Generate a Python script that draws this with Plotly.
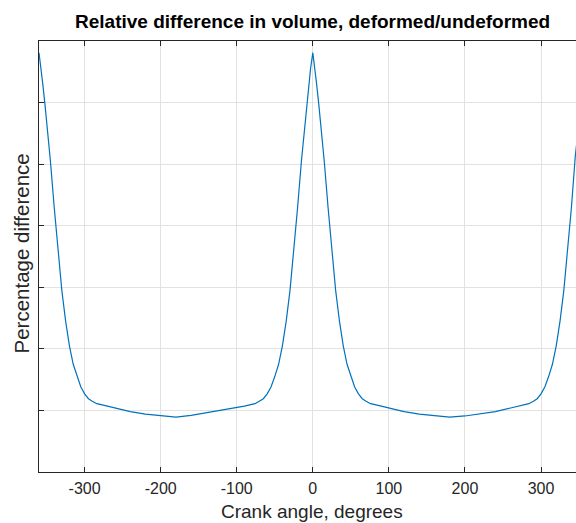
import plotly.graph_objects as go

# Crank angle (degrees)
crank_angle = [-360, -357, -355, -352, -350, -345, -340, -335, -330, -325, -320, -315,
               -310, -305, -300, -295, -290, -284, -270, -260, -240, -220, -200, -180,
               -160, -140, -120, -100, -90, -76, -70, -65, -60, -55, -50, -45, -40,
               -35, -30, -25, -20, -15, -10, -8, -5, -3, 0,
               3, 5, 8, 10, 15, 20, 25, 30, 35, 40, 45, 50, 55, 60, 65, 70, 76, 90,
               100, 120, 140, 160, 180, 200, 220, 240, 260, 270, 284, 290, 295, 300,
               305, 310, 315, 320, 325, 330, 335, 340, 345, 350, 352, 355, 357, 360]

# Percentage difference (axis has no numeric labels; grid units)
pct_diff = [6.81, 6.55, 6.30, 5.95, 5.70, 5.05, 4.30, 3.60, 2.95, 2.45, 2.05, 1.75,
            1.55, 1.38, 1.27, 1.19, 1.15, 1.11, 1.07, 1.04, 0.98, 0.94, 0.91, 0.89,
            0.92, 0.96, 1.00, 1.04, 1.07, 1.11, 1.15, 1.19, 1.27, 1.38, 1.55, 1.75, 2.05,
            2.45, 2.95, 3.60, 4.30, 5.05, 5.70, 5.95, 6.30, 6.55, 6.81,
            6.55, 6.30, 5.95, 5.70, 5.05, 4.30, 3.60, 2.95, 2.45, 2.05, 1.75, 1.55, 1.38,
            1.27, 1.19, 1.15, 1.11, 1.07, 1.04, 0.98, 0.94, 0.92, 0.89, 0.91, 0.94, 0.98,
            1.04, 1.07, 1.11, 1.15, 1.19, 1.27, 1.38, 1.55, 1.75, 2.05, 2.45, 2.95, 3.60,
            4.30, 5.12, 5.70, 5.95, 6.30, 6.55, 6.81]

x_ticks = [-300, -200, -100, 0, 100, 200, 300]
x_tick_labels = ["-300", "-200", "-100", "0", "100", "200", "300"]
y_grid = [0, 1, 2, 3, 4, 5, 6, 7]

title_text = "Relative difference in volume, deformed/undeformed"
x_label = "Crank angle, degrees"
y_label = "Percentage difference"

W, H = 576, 523
L, R, T, B = 39, 0, 41, 51
pw, ph = W - L - R, H - T - B

fig = go.Figure()
fig.add_trace(go.Scatter(x=crank_angle, y=pct_diff, mode="lines",
                         line=dict(color="#0072BD", width=1.2), showlegend=False,
                         hoverinfo="skip"))

axis_color = "#262626"
font_family = "Liberation Sans, Arial, Helvetica, sans-serif"

fig.update_layout(
    width=W, height=H,
    margin=dict(l=L, r=R, t=T, b=B, pad=0),
    paper_bgcolor="white", plot_bgcolor="white",
    font=dict(family=font_family, color=axis_color, size=16),
    xaxis=dict(range=[-360, 346], tickvals=x_ticks, ticktext=x_tick_labels,
               ticks="inside", ticklen=5,
               tickcolor=axis_color, showline=True, linecolor=axis_color, linewidth=1,
               mirror="ticks", showgrid=True, gridcolor="#E2E2E2", gridwidth=1,
               zeroline=False, tickfont=dict(size=16, color=axis_color),
               ticklabelstandoff=2),
    yaxis=dict(range=[0, 7], tickvals=y_grid, ticks="inside", ticklen=5,
               tickcolor=axis_color, showline=True, linecolor=axis_color, linewidth=1,
               mirror=False, showgrid=True, gridcolor="#E2E2E2", gridwidth=1,
               zeroline=False, showticklabels=False),
)

def px_to_paper_x(px):
    return (px - L) / pw

def px_to_paper_y(py):
    return (H - B - py) / ph

fig.add_annotation(text="<b>" + title_text + "</b>", xref="paper", yref="paper",
                   x=px_to_paper_x(312), y=px_to_paper_y(22), xanchor="center",
                   yanchor="middle", showarrow=False,
                   font=dict(size=19, color="#000000", family=font_family))
fig.add_annotation(text=x_label, xref="paper", yref="paper",
                   x=px_to_paper_x(312), y=px_to_paper_y(511.5), xanchor="center",
                   yanchor="middle", showarrow=False,
                   font=dict(size=19, color=axis_color, family=font_family))
fig.add_annotation(text=y_label, xref="paper", yref="paper",
                   x=px_to_paper_x(21), y=px_to_paper_y(253.5), xanchor="center",
                   yanchor="middle", showarrow=False, textangle=-90,
                   font=dict(size=20.5, color=axis_color, family=font_family))

fig.write_html("out.html")
